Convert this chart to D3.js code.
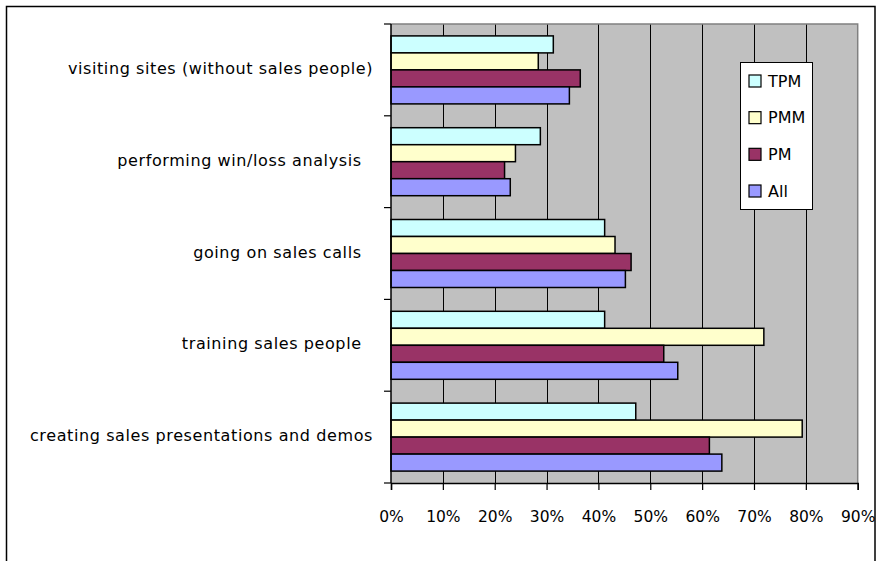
<!DOCTYPE html>
<html>
<head>
<meta charset="utf-8">
<script src="https://cdn.jsdelivr.net/npm/d3@7"></script>
<style>
  html, body { margin: 0; padding: 0; background: #fff; }
  svg { display: block; }
  text { font-family: "DejaVu Sans", Verdana, sans-serif; fill: #000; }
</style>
</head>
<body>
<svg id="chart" width="879" height="561"></svg>
<script>
// Survey activities (top to bottom as drawn)
const categories = [
  "visiting sites (without sales people)",
  "performing win/loss analysis  ",
  "going on sales calls  ",
  "training sales people  ",
  "creating sales presentations and demos"
];
const seriesNames = ["TPM", "PMM", "PM", "All"];
const tpm = [0.313, 0.288, 0.412, 0.412, 0.472];
const pmm = [0.284, 0.240, 0.432, 0.719, 0.793];
const pm  = [0.365, 0.219, 0.463, 0.526, 0.614];
const all = [0.344, 0.230, 0.452, 0.553, 0.638];
const xTicks = [0, 0.1, 0.2, 0.3, 0.4, 0.5, 0.6, 0.7, 0.8, 0.9];
const colors = ["#ccffff", "#ffffcc", "#993366", "#9999ff"];

const seriesValues = [tpm, pmm, pm, all];

const svg = d3.select("#chart");

// outer chart frame (bottom edge runs off the page)
svg.append("rect")
  .attr("x", 6.5).attr("y", 6.5)
  .attr("width", 868.5).attr("height", 600)
  .attr("fill", "#fff").attr("stroke", "#000").attr("stroke-width", 1.5);

const plot = { left: 391, top: 24, right: 857.7, bottom: 483 };

const x = d3.scaleLinear().domain([0, 0.9]).range([plot.left, plot.right]);
const y = d3.scaleBand().domain(categories).range([plot.top, plot.bottom]).padding(0);
const ySub = d3.scaleBand().domain(seriesNames).range([0, y.bandwidth()])
  .paddingInner(0).paddingOuter(0.7);

// plot background
svg.append("rect")
  .attr("x", plot.left).attr("y", plot.top)
  .attr("width", plot.right - plot.left).attr("height", plot.bottom - plot.top)
  .attr("fill", "#c0c0c0");

// vertical gridlines
svg.append("g").selectAll("line")
  .data(xTicks.slice(1, -1))
  .join("line")
  .attr("x1", d => Math.round(x(d)) + 0.5).attr("x2", d => Math.round(x(d)) + 0.5)
  .attr("y1", plot.top).attr("y2", plot.bottom)
  .attr("stroke", "#000").attr("stroke-width", 1);

// top and right edges of the plot area
svg.append("path")
  .attr("d", `M${plot.left},${plot.top}H${plot.right}V${plot.bottom}`)
  .attr("fill", "none").attr("stroke", "#808080").attr("stroke-width", 1.5);

// bars
const groups = svg.append("g").selectAll("g")
  .data(categories)
  .join("g")
  .attr("transform", d => `translate(0,${y(d)})`);

groups.selectAll("rect")
  .data((c, i) => seriesNames.map((s, j) => ({ s, j, v: seriesValues[j][i] })))
  .join("rect")
  .attr("x", x(0))
  .attr("y", d => ySub(d.s))
  .attr("width", d => x(d.v) - x(0))
  .attr("height", ySub.bandwidth())
  .attr("fill", d => colors[d.j])
  .attr("stroke", "#000").attr("stroke-width", 1.5);

// x axis
const xAxis = d3.axisBottom(x).tickValues(xTicks).tickFormat(d3.format(".0%"))
  .tickSize(7).tickPadding(21);
const gx = svg.append("g").attr("transform", `translate(0,${plot.bottom})`).call(xAxis);
gx.select(".domain").attr("stroke", "#000").attr("stroke-width", 1.5);
gx.selectAll(".tick line").attr("stroke", "#000").attr("stroke-width", 1.2);
gx.selectAll("text").attr("font-size", 15.5).attr("font-family", "DejaVu Sans").attr("fill", "#000");

// y axis: tick marks at category boundaries, labels centred in each band
const yEdges = categories.map(c => y(c)).concat([plot.bottom]);
svg.append("line")
  .attr("x1", plot.left).attr("x2", plot.left)
  .attr("y1", plot.top).attr("y2", plot.bottom)
  .attr("stroke", "#000").attr("stroke-width", 1.5);
svg.append("g").selectAll("line")
  .data(yEdges)
  .join("line")
  .attr("x1", plot.left - 7).attr("x2", plot.left)
  .attr("y1", d => d).attr("y2", d => d)
  .attr("stroke", "#000").attr("stroke-width", 1.2);

svg.append("g").selectAll("text")
  .data(categories)
  .join("text")
  .attr("x", 373)
  .attr("y", d => y(d) + y.bandwidth() / 2 - 1.5)
  .attr("dy", "0.35em")
  .attr("text-anchor", "end")
  .attr("font-size", 16)
  .attr("letter-spacing", 0.6)
  .style("white-space", "pre")
  .text(d => d);

// legend
const legend = svg.append("g");
legend.append("rect")
  .attr("x", 740.5).attr("y", 62.5).attr("width", 72).attr("height", 147)
  .attr("fill", "#fff").attr("stroke", "#000").attr("stroke-width", 1);
const rowY = d3.scalePoint().domain(seriesNames).range([81, 191]);
const items = legend.selectAll("g.item")
  .data(seriesNames)
  .join("g").attr("class", "item")
  .attr("transform", d => `translate(0,${rowY(d)})`);
items.append("rect")
  .attr("x", 749).attr("y", -6).attr("width", 12).attr("height", 12)
  .attr("fill", (d, i) => colors[i]).attr("stroke", "#000").attr("stroke-width", 1.2);
items.append("text")
  .attr("x", 768).attr("dy", "0.35em")
  .attr("font-size", 16)
  .text(d => d);
</script>
</body>
</html>
